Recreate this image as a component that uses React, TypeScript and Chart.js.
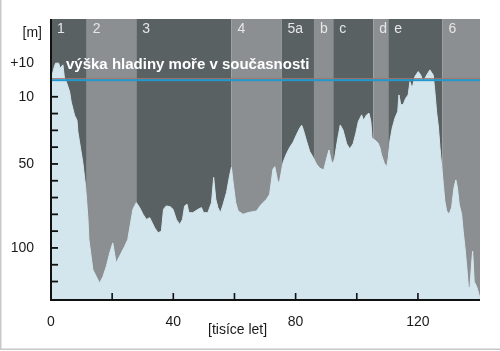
import React, { useEffect, useRef } from "react";
import { Chart, registerables } from "chart.js";
Chart.register(...registerables);

// time before present [thousand years]
const ages = [0, 1.1, 1.5, 2.5, 3.0, 3.9, 4.4, 5.0, 6.1, 6.6, 7.7, 8.5, 8.8, 10.4, 11.3, 12.1, 12.4, 13.7, 14.8, 15.9, 17.0, 18.1, 19.2, 20.2, 21.3, 22.4, 24.1, 25.1, 26.8, 27.9, 29.0, 30.1, 31.2, 32.3, 33.1, 33.9, 35.0, 36.1, 36.8, 37.7, 39.0, 39.9, 41.0, 42.1, 43.0, 43.7, 44.5, 45.1, 46.4, 48.1, 49.2, 49.9, 51.3, 52.5, 53.2, 53.9, 54.6, 55.4, 56.3, 57.4, 58.4, 59.0, 59.5, 60.4, 61.2, 62.8, 64.3, 67.2, 68.8, 70.5, 71.5, 72.6, 73.2, 74.2, 74.8, 75.9, 77.0, 78.1, 79.2, 80.3, 81.4, 82.0, 82.5, 83.6, 84.6, 85.7, 86.8, 87.9, 89.2, 90.1, 90.9, 91.7, 92.3, 92.8, 93.6, 94.6, 95.5, 96.7, 97.7, 98.8, 99.7, 100.5, 101.6, 102.2, 103.2, 104.0, 104.6, 105.0, 105.9, 107.0, 107.6, 108.1, 109.0, 109.8, 110.3, 110.8, 111.6, 112.5, 113.4, 113.8, 114.4, 115.2, 116.0, 116.8, 117.4, 118.1, 119.0, 120.1, 120.9, 121.7, 122.9, 123.9, 125.0, 125.6, 126.1, 126.7, 127.2, 127.8, 128.3, 128.8, 129.4, 130.2, 131.0, 131.8, 132.4, 132.9, 133.5, 134.3, 134.8, 135.4, 136.0, 136.5, 137.0, 137.6, 137.9, 138.4, 139.2, 140.0, 140.3];

// depth below present sea level [m] (negative = above)
const depths = [0, -8, -10, -10, -7, -9, -1, 1, 7, 13, 21, 24, 31, 49, 63, 83, 95, 113, 117, 121, 117, 111, 103, 97, 109, 105, 99, 95, 77, 73, 76, 80, 83, 82, 85, 88, 91, 90, 77, 75, 75.5, 77, 83, 86, 83, 75, 74, 79, 79, 77, 76, 79, 79, 73, 58, 71, 76, 79, 74, 67, 57, 52, 60, 73, 78, 80, 79, 78, 74, 71, 68, 53, 51.6, 61, 60, 49, 44, 40, 37, 32.5, 28.5, 27, 29.5, 36.5, 42.5, 46, 50, 52.5, 53.6, 47, 41.7, 48.6, 49.6, 46, 36.7, 26.8, 29.8, 38, 41, 38, 31.7, 24.8, 20.8, 24, 20.8, 19.8, 24.8, 34.7, 35.7, 37.7, 40.5, 44.6, 49.6, 51.6, 46.4, 36.7, 28.6, 22.6, 18.8, 8.9, 14.9, 14.5, 10.9, 8.9, 1, 5, -2, -5, -3, 1, -3, -6, -3, 8, 19, 28, 40, 52, 62, 72, 78, 80, 76, 64, 59.5, 64, 74, 80, 90, 100, 112, 123, 124, 108, 102, 120, 123, 128, 131];

// stage bands
const bandEdges = [0, 11.7, 27.9, 59.0, 75.4, 86.0, 92.3, 105.4, 110.3, 128.0, 140.3];
const bandLabels = ["1", "2", "3", "4", "5a", "b", "c", "d", "e", "6"];

const xTickValues = [0, 20, 40, 60, 80, 100, 120, 140];
const xTickLabels = ["0", "", "40", "", "80", "", "120", ""];
const xMinorTicks = [20, 40, 60, 80, 100, 120];
const yTickValues = [-10, 10, 50, 100];
const yTickLabels = ["+10", "10", "50", "100"];
const yMinorTicks = [10, 20, 30, 40, 50, 60, 70, 80, 90, 100, 110, 120];

const seaLevel = 0;
const seaLevelLabel = "výška hladiny moře v současnosti";
const yUnit = "[m]";
const xTitle = "[tisíce let]";

const X_MIN = 0;
const X_MAX = 140.3;
const Y_MIN = -36.3;
const Y_MAX = 131;

const DARK = "#5a6163";
const LIGHT = "#8c8f91";
const FILL = "#d4e6ed";
const FONT = '"Liberation Sans", Arial, sans-serif';

const decor = {
  id: "decor",
  beforeDatasetsDraw(chart: any) {
    const { ctx, chartArea: a, scales } = chart;
    const x = scales.x;
    ctx.save();
    for (let i = 0; i < bandLabels.length; i++) {
      const x0 = x.getPixelForValue(bandEdges[i]);
      const x1 = x.getPixelForValue(bandEdges[i + 1]);
      ctx.fillStyle = i % 2 === 0 ? DARK : LIGHT;
      ctx.fillRect(x0, a.top, x1 - x0, a.bottom - a.top);
    }
    ctx.restore();
  },
  afterDatasetsDraw(chart: any) {
    const { ctx, chartArea: a, scales } = chart;
    const x = scales.x;
    const y = scales.y;
    ctx.save();
    // present sea level
    const py = y.getPixelForValue(seaLevel);
    ctx.fillStyle = "#a87565";
    ctx.fillRect(a.left, py - 1.8, a.right - a.left, 0.9);
    ctx.fillStyle = "#2199cf";
    ctx.fillRect(a.left, py - 0.8, a.right - a.left, 2);
    // axes
    ctx.fillStyle = "#111";
    ctx.fillRect(a.left - 1, a.top, 2, a.bottom - a.top + 1);
    ctx.fillRect(a.left - 1, a.bottom - 1, a.right - a.left + 1, 2);
    for (const v of yMinorTicks) {
      const p = y.getPixelForValue(v);
      ctx.fillRect(a.left, p - 0.9, 7, 1.8);
    }
    for (const v of xMinorTicks) {
      const p = x.getPixelForValue(v);
      ctx.fillRect(p - 0.8, a.bottom - 7, 1.6, 7);
    }
    // band labels
    ctx.font = "14px " + FONT;
    ctx.fillStyle = "#e6e6e6";
    ctx.textBaseline = "middle";
    ctx.textAlign = "left";
    for (let i = 0; i < bandLabels.length; i++) {
      const x0 = x.getPixelForValue(bandEdges[i]);
      ctx.fillText(bandLabels[i], x0 + 6, a.top + 10);
    }
    // sea-level label
    ctx.font = "bold 15px " + FONT;
    ctx.fillStyle = "#ffffff";
    ctx.fillText(seaLevelLabel, a.left + 15, y.getPixelForValue(-8.7));
    // unit and axis title
    ctx.font = "14px " + FONT;
    ctx.fillStyle = "#1a1a1a";
    ctx.textAlign = "right";
    ctx.fillText(yUnit, a.left - 9, a.top + 14);
    ctx.textAlign = "left";
    ctx.fillText(xTitle, 208, 330);
    // outer frame
    ctx.fillStyle = "#c8c8c8";
    ctx.fillRect(0, 0, 1.5, 350);
    ctx.fillRect(0, 348.5, 500, 1.5);
    ctx.restore();
  },
};

export default function App() {
  const ref = useRef<HTMLCanvasElement>(null);
  useEffect(() => {
    if (!ref.current) return;
    const chart = new Chart(ref.current, {
      type: "line",
      data: {
        datasets: [
          {
            data: ages.map((t, i) => ({ x: t, y: depths[i] })),
            fill: { value: Y_MAX },
            backgroundColor: FILL,
            borderColor: FILL,
            borderWidth: 1,
            pointRadius: 0,
            tension: 0,
          },
        ],
      },
      options: {
        responsive: false,
        animation: false,
        devicePixelRatio: 1,
        layout: { padding: { top: 19, right: 20, left: 0, bottom: 0 } },
        plugins: { legend: { display: false }, tooltip: { enabled: false } },
        scales: {
          x: {
            type: "linear",
            min: X_MIN,
            max: X_MAX,
            afterBuildTicks: (s: any) => {
              s.ticks = xTickValues.map((v) => ({ value: v }));
            },
            afterFit: (s: any) => {
              s.height = 51;
            },
            grid: { display: false },
            border: { display: false },
            ticks: {
              autoSkip: false,
              maxRotation: 0,
              padding: 6,
              color: "#1a1a1a",
              font: { family: FONT, size: 14 },
              callback: (v: any) => {
                const i = xTickValues.indexOf(Number(v));
                return i >= 0 ? xTickLabels[i] : "";
              },
            },
          },
          y: {
            type: "linear",
            reverse: true,
            min: Y_MIN,
            max: Y_MAX,
            afterBuildTicks: (s: any) => {
              s.ticks = yTickValues.map((v) => ({ value: v }));
            },
            afterFit: (s: any) => {
              s.width = 51;
            },
            grid: { display: false },
            border: { display: false },
            ticks: {
              autoSkip: false,
              padding: 9,
              color: "#1a1a1a",
              font: { family: FONT, size: 14 },
              callback: (v: any) => {
                const i = yTickValues.indexOf(Number(v));
                return i >= 0 ? yTickLabels[i] : "";
              },
            },
          },
        },
      },
      plugins: [decor],
    } as any);
    return () => chart.destroy();
  }, []);
  return (
    <div style={{ position: "absolute", left: 0, top: 0, width: 500, height: 351, background: "#fff" }}>
      <canvas ref={ref} width={500} height={351} style={{ display: "block" }} />
    </div>
  );
}
